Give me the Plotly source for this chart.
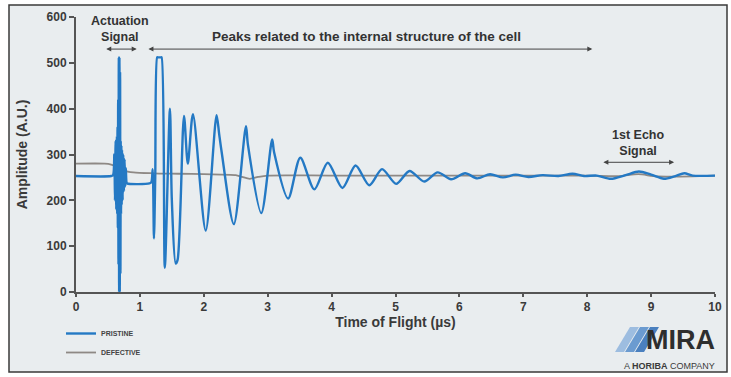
import plotly.graph_objects as go

# ---- data ----
pristine_t = [0.0, 0.55, 0.58, 0.60, 0.61, 0.62, 0.63, 0.64, 0.645, 0.65, 0.655, 0.66, 0.665,
              0.67, 0.675, 0.68, 0.685, 0.69, 0.695, 0.70, 0.705, 0.71, 0.715, 0.72, 0.73,
              0.74, 0.75, 0.76, 0.77, 0.78, 0.79, 0.80, 1.15, 1.18, 1.20, 1.22, 1.24, 1.27,
              1.28, 1.33, 1.34, 1.39, 1.47, 1.50, 1.56, 1.59, 1.69, 1.75, 1.83, 2.03, 2.20,
              2.24, 2.28, 2.47, 2.66, 2.69, 2.90, 3.07, 3.10, 3.32, 3.51, 3.73, 3.94, 4.17,
              4.375, 4.59, 4.79, 5.01, 5.22, 5.45, 5.66, 5.87, 6.09, 6.28, 6.48, 6.68, 6.88,
              7.08, 7.30, 7.55, 7.77, 7.95, 8.15, 8.37, 8.60, 8.81, 9.00, 9.20, 9.38, 9.52,
              9.65, 10.0]
pristine_v = [253, 253, 255, 300, 200, 330, 180, 340, 170, 360, 140, 420, 60,
              512, 0, 512, 0, 480, 40, 330, 170, 320, 190, 310, 200,
              300, 220, 290, 230, 270, 240, 237, 237, 240, 268, 117, 250, 512,
              512, 512, 512, 53, 400, 200, 62, 70, 384, 280, 388, 134, 386,
              345, 305, 148, 362, 322, 172, 333, 305, 204, 293, 224, 282, 227,
              276, 233, 268, 236, 264, 241, 261, 246, 259, 248, 257, 250, 256,
              251, 255, 253, 258, 253, 254, 247, 255, 263, 256, 247, 253, 259,
              254, 254]

defective_t = [0.0, 0.45, 0.55, 0.65, 0.75, 0.9, 1.2, 1.6, 2.0, 2.5, 2.6, 2.72, 2.85,
               3.0, 4.0, 5.0, 6.0, 7.0, 8.0, 8.5, 8.8, 9.1, 10.0]
defective_v = [280, 280, 278, 273, 265, 261, 259, 258, 257, 255, 251, 247, 251,
               254, 254, 254, 254, 254, 254, 253, 257, 252, 254]

x_ticks = [0, 1, 2, 3, 4, 5, 6, 7, 8, 9, 10]
y_ticks = [0, 100, 200, 300, 400, 500, 600]

W, H = 731, 377
L, R, T, B = 76, 16, 17, 85
PW, PH = W - L - R, H - T - B


def px(x):
    return (x - L) / PW


def py(y):
    return (H - B - y) / PH


fig = go.Figure()
fig.add_trace(go.Scatter(x=defective_t, y=defective_v, mode="lines", name="DEFECTIVE",
                         line=dict(color="#8e8985", width=1.8, shape="spline", smoothing=0.8)))
fig.add_trace(go.Scatter(x=pristine_t, y=pristine_v, mode="lines", name="PRISTINE",
                         line=dict(color="#2479c4", width=2.4, shape="spline", smoothing=0.8)))

axis_font = dict(family="Liberation Sans", size=12, color="#3a3a3a", weight="bold")
title_font = dict(family="Liberation Sans", size=14, color="#3a3a3a", weight="bold")

fig.update_layout(
    width=W, height=H,
    margin=dict(l=L, r=R, t=T, b=B, autoexpand=False),
    paper_bgcolor="white",
    plot_bgcolor="rgba(0,0,0,0)",
    font=dict(family="Liberation Sans", color="#333"),
    showlegend=True,
    legend=dict(x=px(61), y=py(319), xanchor="left", yanchor="top",
                traceorder="reversed", bgcolor="rgba(0,0,0,0)",
                font=dict(family="Liberation Sans", size=7, color="#444", weight="bold"),
                itemwidth=30, tracegroupgap=0),
    xaxis=dict(range=[0, 10], tickvals=x_ticks, showgrid=False, zeroline=False,
               showline=True, linecolor="#555", linewidth=2, ticks="outside",
               ticklen=3, tickwidth=1.5, tickcolor="#555", tickfont=axis_font,
               title=dict(text="Time of Flight (µs)", font=title_font, standoff=0)),
    yaxis=dict(range=[0, 600], tickvals=y_ticks, showgrid=False, zeroline=False,
               showline=True, linecolor="#555", linewidth=2, ticks="outside",
               ticklen=5, tickwidth=1.5, tickcolor="#555", tickfont=axis_font,
               title=dict(text="Amplitude (A.U.)", font=title_font, standoff=16)),
)

# frame / background panel
fig.add_shape(type="rect", xref="paper", yref="paper", layer="below",
              x0=px(9), x1=px(727), y0=py(372), y1=py(5),
              fillcolor="#e9edef", line=dict(color="#3a3a3a", width=1.5))

# annotations
ann_font = dict(family="Liberation Sans", size=12.5, color="#333", weight="bold")
fig.add_annotation(x=0.69, y=574, text="Actuation<br>Signal", showarrow=False,
                   font=ann_font, xanchor="center", yanchor="middle")
fig.add_annotation(x=4.54, y=557, text="Peaks related to the internal structure of the cell",
                   showarrow=False, font=dict(ann_font, size=13.5),
                   xanchor="center", yanchor="middle")
fig.add_annotation(x=8.79, y=325, text="1st Echo<br>Signal", showarrow=False,
                   font=ann_font, xanchor="center", yanchor="middle")

for (xa, xb, yy) in [(0.45, 0.95, 530), (1.11, 8.08, 530), (8.23, 9.36, 283)]:
    fig.add_annotation(x=xb, y=yy, ax=xa, ay=yy, axref="x", ayref="y", xref="x", yref="y",
                       text="", showarrow=True, arrowside="end+start", arrowhead=2,
                       arrowsize=1, arrowwidth=1, arrowcolor="#444", standoff=0,
                       startstandoff=0)

# MIRA logo
stripes = [(615, "#9dbde0"), (625, "#6b9bd0"), (635, "#4a80bf")]
for x0, col in stripes:
    path = (f"M {px(x0)},{py(352)} L {px(x0 + 9)},{py(352)} "
            f"L {px(x0 + 24)},{py(327)} L {px(x0 + 15)},{py(327)} Z")
    fig.add_shape(type="path", xref="paper", yref="paper", path=path,
                  fillcolor=col, line=dict(width=0))
fig.add_annotation(xref="paper", yref="paper", x=px(717), y=py(340), text="MIRA",
                   showarrow=False, xanchor="right", yanchor="middle",
                   font=dict(family="Liberation Sans", size=27, color="#2e2e2e", weight="bold"))
fig.add_annotation(xref="paper", yref="paper", x=px(717), y=py(366),
                   text="A <b>HORIBA</b> COMPANY", showarrow=False, xanchor="right",
                   yanchor="middle",
                   font=dict(family="Liberation Sans", size=9, color="#3a3a3a"))

fig.write_html("out.html", config={"displayModeBar": False},
               post_script="document.body.style.margin='0';")
